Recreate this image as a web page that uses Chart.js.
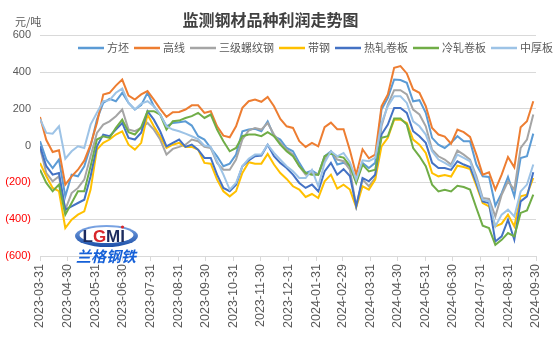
<!DOCTYPE html>
<html>
<head>
<meta charset="utf-8">
<title>监测钢材品种利润走势图</title>
<script src="https://cdn.jsdelivr.net/npm/chart.js@4.4.1/dist/chart.umd.min.js"></script>
<style>
  html, body { margin: 0; padding: 0; background: #fff; }
  #wrap { width: 554px; height: 338px; }
</style>
</head>
<body>
<div id="wrap"><canvas id="profitChart" width="554" height="338"></canvas></div>
<script>
// weekly profit, 元/吨, Fridays from 2023-03-31
const startDate = '2023-03-31';
const seriesNames = ['方坯', '高线', '三级螺纹钢', '带钢', '热轧卷板', '冷轧卷板', '中厚板'];
const seriesColors = ['#5B9BD5', '#ED7D31', '#A5A5A5', '#FFC000', '#4472C4', '#70AD47', '#9DC3E6'];

const fangpi = [24, -76, -122, -76, -276, -158, -167, -112, -4, 141, 232, 254, 241, 287, 232, 196, 220,
  287, 214, 169, 105, 123, 127, 132, 109, 51, 33, -13, -58, -112, -98, -49, 78, 87,
  91, 78, 132, 51, 33, -13, -31, -94, -149, -136, -158, -58, -31, -103, -94, -110,
  -194, -94, -122, -94, 196, 259, 359, 356, 341, 241, 247, 178, 42, 5, -13, 15,
  51, 24, 24, -103, -167, -170, -327, -258, -170, -276, -67, -58, 65];
const gaoxian = [156, 30, -35, -25, -212, -167, -131, -82, 5, 123, 278, 287, 326, 359, 272, 250, 278,
  296, 250, 200, 156, 181, 183, 196, 219, 219, 178, 187, 105, 54, 45, 105, 205, 241,
  250, 238, 265, 214, 145, 105, 96, 24, -7, 15, -4, 100, 125, 89, 89, -25,
  -158, -20, -69, -49, 214, 278, 423, 432, 392, 305, 287, 214, 96, 60, 49, 10,
  87, 73, 47, -49, -158, -145, -239, -158, -62, -118, 100, 132, 241];
const luowengang = [-13, -149, -194, -167, -348, -258, -230, -185, -58, 69, 114, 132, 160, 196, 87, 78, 96,
  123, 87, 33, -49, -18, -7, 5, 33, 24, -7, -13, -94, -131, -131, -76, 33, 82,
  96, 87, 123, 60, 15, -22, -49, -112, -158, -149, -158, -76, -31, -76, -85, -130,
  -330, -185, -221, -176, 105, 223, 301, 301, 278, 196, 169, 105, -22, -58, -76, -103,
  -27, -49, -76, -167, -285, -290, -385, -267, -194, -239, -13, 33, 169];
const daigang = [-94, -167, -230, -248, -448, -403, -375, -357, -239, -22, 15, 33, 60, 78, 5, -22, 15,
  169, 105, 51, -13, 5, 15, -7, -7, -22, -94, -98, -185, -248, -276, -248, -149, -90,
  -98, -98, -45, -103, -149, -181, -221, -239, -279, -263, -285, -194, -158, -234, -212, -239,
  -335, -221, -239, -185, -4, 42, 141, 141, 123, 33, 5, -40, -149, -167, -160, -168,
  -109, -116, -127, -218, -312, -330, -439, -424, -375, -439, -276, -267, -176];
const rezha = [-4, -112, -158, -149, -348, -330, -312, -294, -167, -4, 60, 51, 87, 123, 42, 33, 70,
  187, 141, 78, -4, 15, 33, -7, 5, -22, -67, -67, -158, -230, -248, -212, -112, -80,
  -58, -54, 5, -58, -94, -122, -158, -203, -230, -212, -248, -140, -94, -158, -128, -165,
  -330, -176, -194, -158, 60, 114, 205, 205, 178, 78, 51, 15, -94, -122, -122, -132,
  -85, -103, -116, -203, -303, -312, -521, -493, -403, -512, -303, -276, -145];
const lengzha = [-131, -203, -248, -212, -375, -312, -248, -248, -112, 33, 51, 42, 96, 141, 73, 60, 100,
  187, 187, 169, 87, 132, 136, 150, 160, 178, 150, 169, 87, 24, -31, -13, 51, 60,
  60, 51, 73, 51, 5, -31, -58, -112, -149, -158, -158, -58, -40, -58, -65, -110,
  -203, -103, -140, -131, 42, 51, 147, 147, 114, -13, -58, -112, -212, -249, -240, -249,
  -218, -225, -239, -339, -435, -448, -539, -512, -475, -493, -366, -352, -267];
const zhonghouban = [145, 69, 65, 105, -71, -31, -4, -13, 114, 178, 241, 247, 287, 310, 232, 196, 228,
  241, 214, 169, 105, 87, 78, 65, 51, 36, 0, -7, -85, -158, -239, -203, -112, -72,
  -49, -49, 5, -40, -76, -112, -140, -176, -176, -131, -221, -94, -31, -58, -40, -90,
  -185, -80, -85, -67, 123, 214, 268, 268, 232, 132, 105, 60, -31, -76, -94, -114,
  -49, -67, -85, -185, -294, -303, -439, -375, -348, -385, -249, -212, -103];

const tickLabels = ['2023-03-31', '2023-04-30', '2023-05-31', '2023-06-30', '2023-07-31', '2023-08-31',
  '2023-09-30', '2023-10-31', '2023-11-30', '2023-12-31', '2024-01-31', '2024-02-29', '2024-03-31',
  '2024-04-30', '2024-05-31', '2024-06-30', '2024-07-31', '2024-08-31', '2024-09-30'];

const allSeries = [fangpi, gaoxian, luowengang, daigang, rezha, lengzha, zhonghouban];

function dayOffset(s) {
    return Math.round((Date.parse(s) - Date.parse(startDate)) / 86400000);
}
const tickDays = tickLabels.map(dayOffset);
const weekDays = fangpi.map((v, i) => i * 7);

const cjk = '"Noto Sans CJK SC", "Noto Sans", sans-serif';
const latin = '"Liberation Sans", Arial, sans-serif';

// legend drawn inside the plot like the excel original
const lineLegend = {
    id: 'lineLegend',
    afterDraw(chart) {
        const c = chart.ctx;
        let x = 78;
        const y = 48;
        c.save();
        c.font = '11px ' + cjk;
        c.textBaseline = 'middle';
        chart.data.datasets.forEach((ds) => {
            c.strokeStyle = ds.borderColor;
            c.lineWidth = 2.5;
            c.beginPath();
            c.moveTo(x, y);
            c.lineTo(x + 26, y);
            c.stroke();
            x += 29;
            c.fillStyle = '#595959';
            c.fillText(ds.label, x, y);
            x += c.measureText(ds.label).width + 5;
        });
        c.restore();
    }
};

const unitAndLogo = {
    id: 'unitAndLogo',
    afterDraw(chart) {
        const c = chart.ctx;
        c.save();
        c.font = '11px ' + cjk;
        c.fillStyle = '#595959';
        c.textBaseline = 'middle';
        c.fillText('元/吨', 15, 22);

        // LGMI logo
        const cx = 106.5, cy = 236;
        const g = c.createLinearGradient(0, cy - 11, 0, cy + 11);
        g.addColorStop(0, '#7fa8e6');
        g.addColorStop(1, '#1b4fa8');
        c.fillStyle = g;
        c.beginPath();
        c.ellipse(cx, cy, 31.5, 11, 0, 0, Math.PI * 2);
        c.fill();
        c.fillStyle = '#ffffff';
        c.beginPath();
        c.ellipse(cx, cy - 1, 27, 8, 0, 0, Math.PI * 2);
        c.fill();
        c.font = 'bold 17px ' + latin;
        c.textAlign = 'left';
        const parts = [['L', '#1c2b5e'], ['G', '#d8262b'], ['M', '#1c2b5e'], ['I', '#1c2b5e']];
        let lx = cx - 24;
        parts.forEach(([t, col]) => {
            c.fillStyle = col;
            c.fillText(t, lx, cy + 1);
            lx += c.measureText(t).width;
        });
        c.fillStyle = '#d8262b';
        c.beginPath();
        c.arc(lx - 2.5, cy - 9, 1.6, 0, Math.PI * 2);
        c.fill();

        c.font = 'italic bold 15px ' + cjk;
        c.fillStyle = '#1560d8';
        c.textAlign = 'center';
        c.fillText('兰格钢铁', 106, 256);
        c.restore();
    }
};

const ctx = document.getElementById('profitChart').getContext('2d');
const profitChart = new Chart(ctx, {
    type: 'line',
    data: {
        datasets: allSeries.map((vals, i) => ({
            label: seriesNames[i],
            data: vals.map((v, j) => ({ x: weekDays[j], y: v })),
            borderColor: seriesColors[i],
            backgroundColor: seriesColors[i],
            borderWidth: 2,
            pointRadius: 0,
            tension: 0,
            fill: false,
            order: seriesNames.length - i
        }))
    },
    options: {
        responsive: false,
        animation: false,
        devicePixelRatio: 1,
        layout: { padding: { left: 0, right: 13, top: 0, bottom: 0 } },
        plugins: {
            legend: { display: false },
            tooltip: { enabled: false },
            title: {
                display: true,
                text: '监测钢材品种利润走势图',
                color: '#404040',
                font: { family: cjk, size: 16, weight: 'bold' },
                padding: { top: 10, bottom: 6 }
            }
        },
        scales: {
            x: {
                type: 'linear',
                min: 0,
                max: tickDays[tickDays.length - 1],
                afterBuildTicks: (scale) => {
                    scale.ticks = tickDays.map(v => ({ value: v }));
                },
                afterFit: (scale) => { scale.height = 82; },
                grid: { drawOnChartArea: false, drawTicks: true, tickLength: 5, color: '#d9d9d9' },
                border: { display: true, color: '#d9d9d9' },
                ticks: {
                    autoSkip: false,
                    minRotation: 90,
                    maxRotation: 90,
                    padding: 3,
                    color: '#595959',
                    font: { family: latin, size: 12.5 },
                    callback: (v) => tickLabels[tickDays.indexOf(v)]
                }
            },
            y: {
                min: -600,
                max: 600,
                afterFit: (scale) => { scale.width = 40; },
                grid: { color: '#d9d9d9', drawTicks: false },
                border: { display: false },
                ticks: {
                    stepSize: 200,
                    padding: 9,
                    font: { family: latin, size: 11 },
                    color: (c) => c.tick.value < 0 ? '#ff0000' : '#595959',
                    callback: (v) => v < 0 ? '(' + Math.abs(v) + ')' : String(v)
                }
            }
        }
    },
    plugins: [lineLegend, unitAndLogo]
});
</script>
</body>
</html>
